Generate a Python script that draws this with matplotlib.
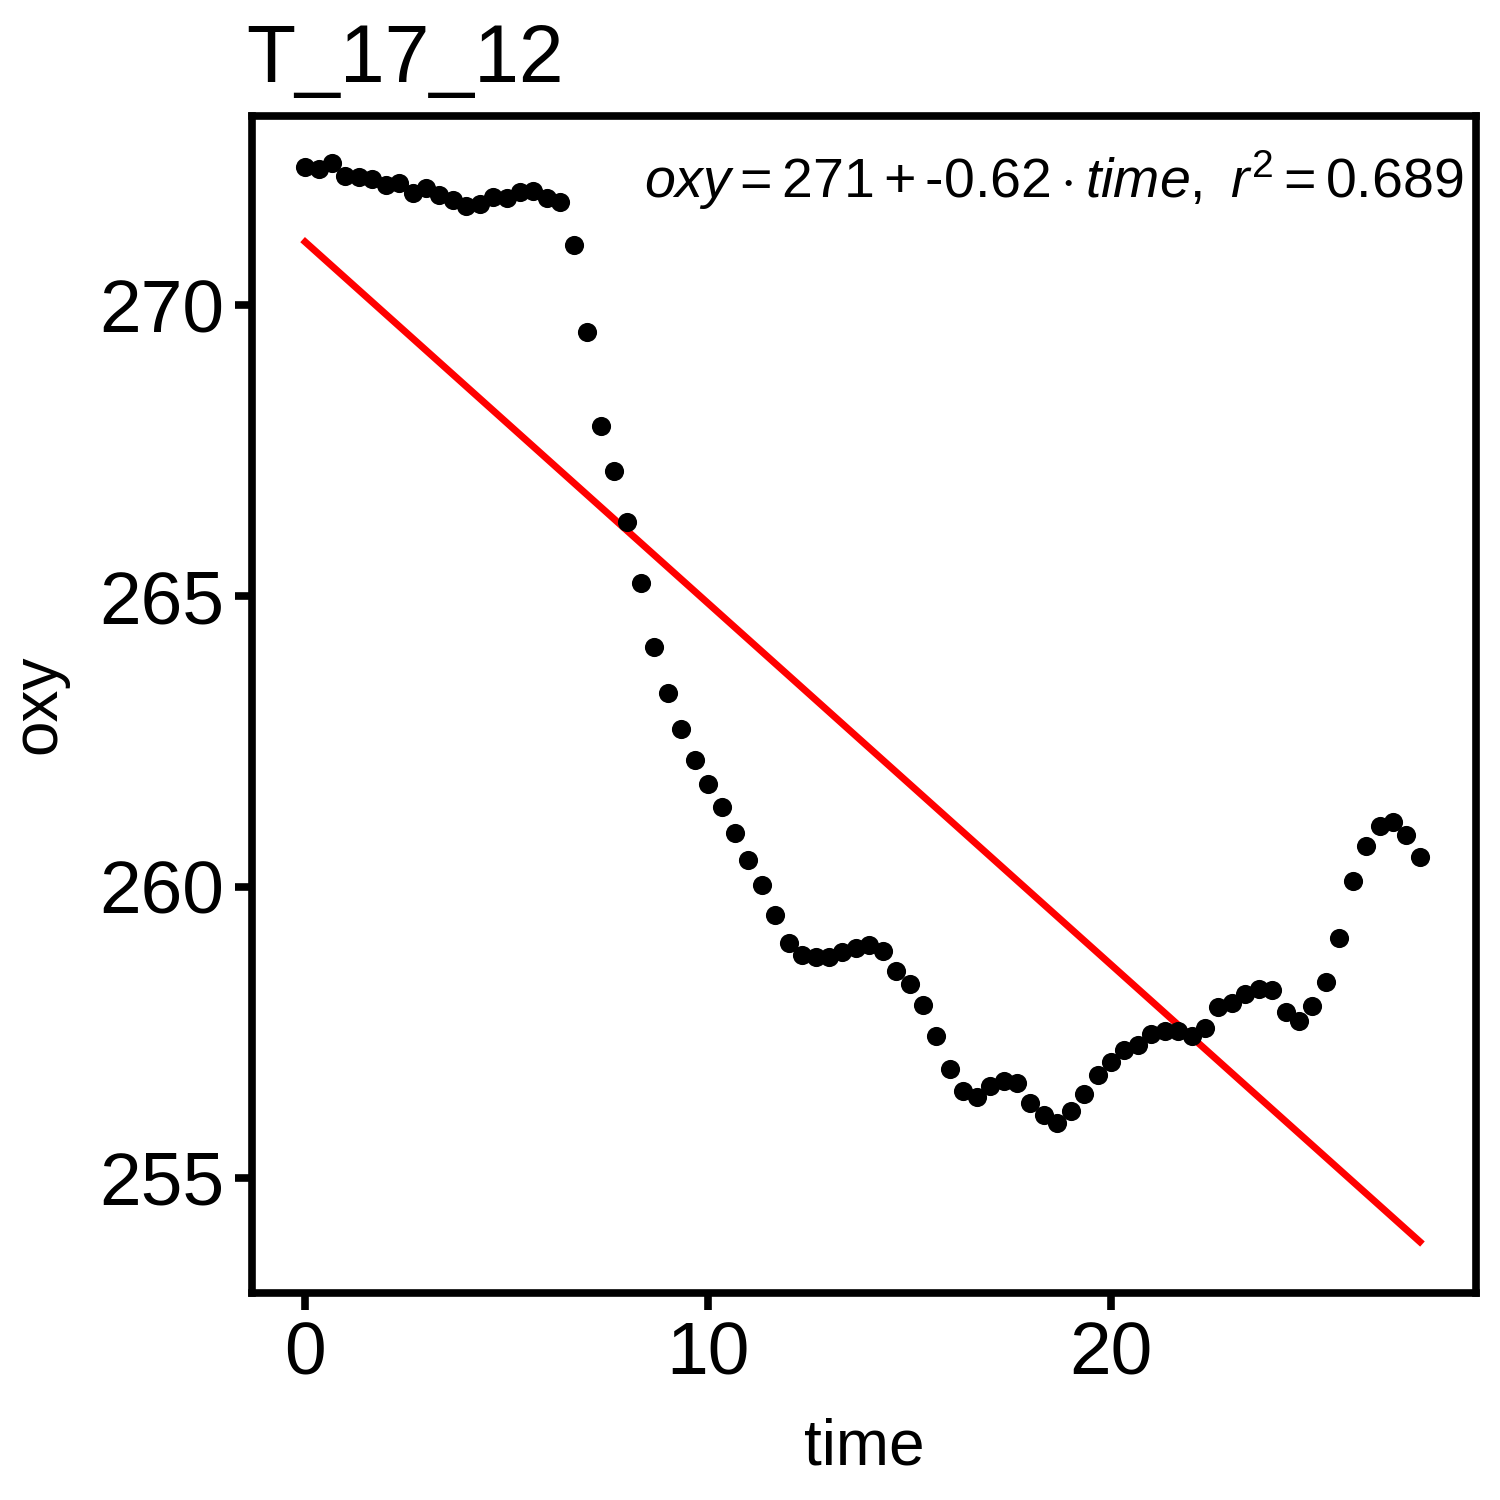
import numpy as np
import matplotlib
matplotlib.use("Agg")
import matplotlib.pyplot as plt

plt.rcParams['font.family'] = ['Liberation Sans', 'DejaVu Sans']
plt.rcParams['mathtext.fontset'] = 'custom'
plt.rcParams['mathtext.rm'] = 'Liberation Sans'
plt.rcParams['mathtext.it'] = 'Liberation Sans:italic'

title = "T_17_12"
oxy = [272.37, 272.34, 272.44, 272.22, 272.20, 272.16, 272.06, 272.10, 271.92, 272.01,
       271.89, 271.80, 271.70, 271.74, 271.86, 271.84, 271.94, 271.96, 271.84, 271.77,
       271.03, 269.54, 267.92, 267.15, 266.27, 265.22, 264.12, 263.33, 262.71, 262.18,
       261.77, 261.37, 260.93, 260.46, 260.03, 259.52, 259.04, 258.83, 258.80, 258.80,
       258.88, 258.95, 259.00, 258.90, 258.56, 258.33, 257.97, 257.44, 256.87, 256.49,
       256.39, 256.58, 256.67, 256.63, 256.29, 256.08, 255.94, 256.15, 256.44, 256.77,
       256.99, 257.20, 257.29, 257.47, 257.53, 257.53, 257.44, 257.58, 257.94, 258.01,
       258.16, 258.25, 258.23, 257.85, 257.70, 257.96, 258.37, 259.12, 260.10, 260.70,
       261.05, 261.12, 260.89, 260.52]
oxy = np.array(oxy)
time = np.arange(len(oxy)) / 3.0

slope, intercept = np.polyfit(time, oxy, 1)
pred = intercept + slope * time
r2 = 1 - np.sum((oxy - pred) ** 2) / np.sum((oxy - oxy.mean()) ** 2)

fig = plt.figure(figsize=(15, 15), dpi=100)
ax = fig.add_axes([0.168, 0.138, 0.816, 0.785])
ax.scatter(time, oxy, s=190, color='black', zorder=3, linewidths=0)
ax.plot(time, pred, color='red', lw=5, zorder=2)

ax.set_xlim(-1.32, 29.06)
ax.set_ylim(253.02, 273.26)
ax.set_xticks([0, 10, 20])
ax.set_yticks([255, 260, 265, 270])
for s in ax.spines.values():
    s.set_linewidth(5.5)
ax.tick_params(axis='both', length=12, width=5.5, labelsize=54, pad=8, color='black')
ax.set_xlabel("time", fontsize=46, labelpad=20)
ax.set_ylabel("oxy", fontsize=46, labelpad=22)
ax.set_title(title, fontsize=58, loc='left', pad=24, x=-0.005)

slope_txt = ("%.2f" % slope).replace("-", "\u2010")
ax.text(0.99, 0.945,
        r"$\mathit{oxy} = %d + \mathrm{%s} \cdot \mathit{time},\ \mathit{r}^2 = %.3f$" % (round(intercept), slope_txt, r2),
        transform=ax.transAxes, ha='right', va='center', fontsize=40)

fig.savefig("out.png", dpi=100)
